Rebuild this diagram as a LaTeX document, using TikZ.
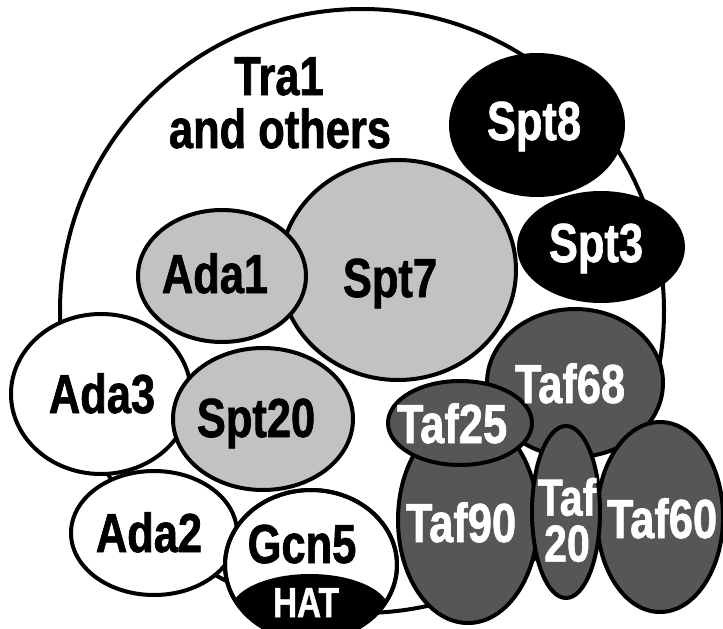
\documentclass[tikz,border=0pt]{standalone}
\usepackage{fontspec}
\setmainfont{Liberation Sans}[FakeStretch=0.79, BoldFeatures={FakeBold=1.2}]
\usetikzlibrary{shapes.geometric}
\definecolor{lgrey}{RGB}{194,194,194}
\definecolor{dgrey}{RGB}{86,86,86}
\begin{document}
\begin{tikzpicture}[x=1pt,y=-1pt,
  blob/.style={ellipse, draw=black, line width=4pt, inner sep=0pt},
  whiteblob/.style={blob, fill=white},
  lightblob/.style={blob, fill=lgrey},
  darkblob/.style={blob, fill=dgrey},
  blackblob/.style={blob, fill=black},
  lbl/.style={anchor=base, inner sep=0pt, font=\fontsize{55}{60}\selectfont\bfseries},
  wlbl/.style={lbl, text=white},
  outline/.style={draw=black, line width=4pt}]
\clip (0,0) rectangle (723,629);
\fill[white] (0,0) rectangle (723,629);
% outer complex
\node[whiteblob, minimum width=604pt, minimum height=604pt] (outer) at (362,311) {};
\node[lbl] (tra1) at (279,95) {Tra1};
\node[lbl] (others) at (280,148) {and others};
% Spt8 / Spt3
\node[blackblob, minimum width=172pt, minimum height=140pt] (spt8) at (537,125) {};
\node[wlbl] (spt8t) at (534,140) {Spt8};
\node[blackblob, minimum width=164pt, minimum height=108pt] (spt3) at (601,247) {};
\node[wlbl] (spt3t) at (596,262) {Spt3};
% Spt7 / Ada1
\node[lightblob, minimum width=236pt, minimum height=220pt] (spt7) at (398,270) {};
\node[lbl] (spt7t) at (390,297) {Spt7};
\node[lightblob, minimum width=168pt, minimum height=132pt] (ada1) at (222,276) {};
\node[lbl] (ada1t) at (215,293) {Ada1};
% Ada3 / Spt20
\node[whiteblob, minimum width=180pt, minimum height=160pt] (ada3) at (101,394) {};
\node[lbl] (ada3t) at (102,413) {Ada3};
\node[lightblob, minimum width=180pt, minimum height=142pt] (spt20) at (263,419) {};
\node[lbl] (spt20t) at (256,437) {Spt20};
% Ada2 / Gcn5 / HAT
\node[whiteblob, minimum width=166pt, minimum height=124pt] (ada2) at (154,533) {};
\node[lbl] (ada2t) at (149,552) {Ada2};
\node[whiteblob, minimum width=172pt, minimum height=150pt] (gcn5) at (311,565) {};
\begin{scope}
  \clip (311,565) ellipse [x radius=86, y radius=75];
  \fill[black] (310,612) ellipse [x radius=80, y radius=38];
\end{scope}
\draw[outline] (311,565) ellipse [x radius=86, y radius=75];
\node[lbl] (gcn5t) at (302,563) {Gcn5};
\node[wlbl, font=\fontsize{42}{48}\selectfont\bfseries] (hat) at (306,617) {HAT};
% TAFs
\node[darkblob, minimum width=176pt, minimum height=148pt] (taf68) at (575,383) {};
\node[darkblob, minimum width=140pt, minimum height=206pt] (taf90) at (468,520) {};
\node[darkblob, minimum width=126pt, minimum height=190pt] (taf60) at (660,517) {};
\node[darkblob, minimum width=144pt, minimum height=84pt] (taf25) at (460,423) {};
\node[darkblob, minimum width=68pt, minimum height=172pt] (taf20) at (566,512) {};
\node[wlbl] (taf68t) at (570,403) {Taf68};
\node[wlbl] (taf25t) at (452,443) {Taf25};
\node[wlbl] (taf90t) at (461,542) {Taf90};
\node[wlbl] (taf60t) at (662,538) {Taf60};
\node[wlbl, anchor=center, align=center, font=\fontsize{52}{46}\selectfont\bfseries] (taf20t) at (567,520) {Taf\\20};
\end{tikzpicture}
\end{document}
